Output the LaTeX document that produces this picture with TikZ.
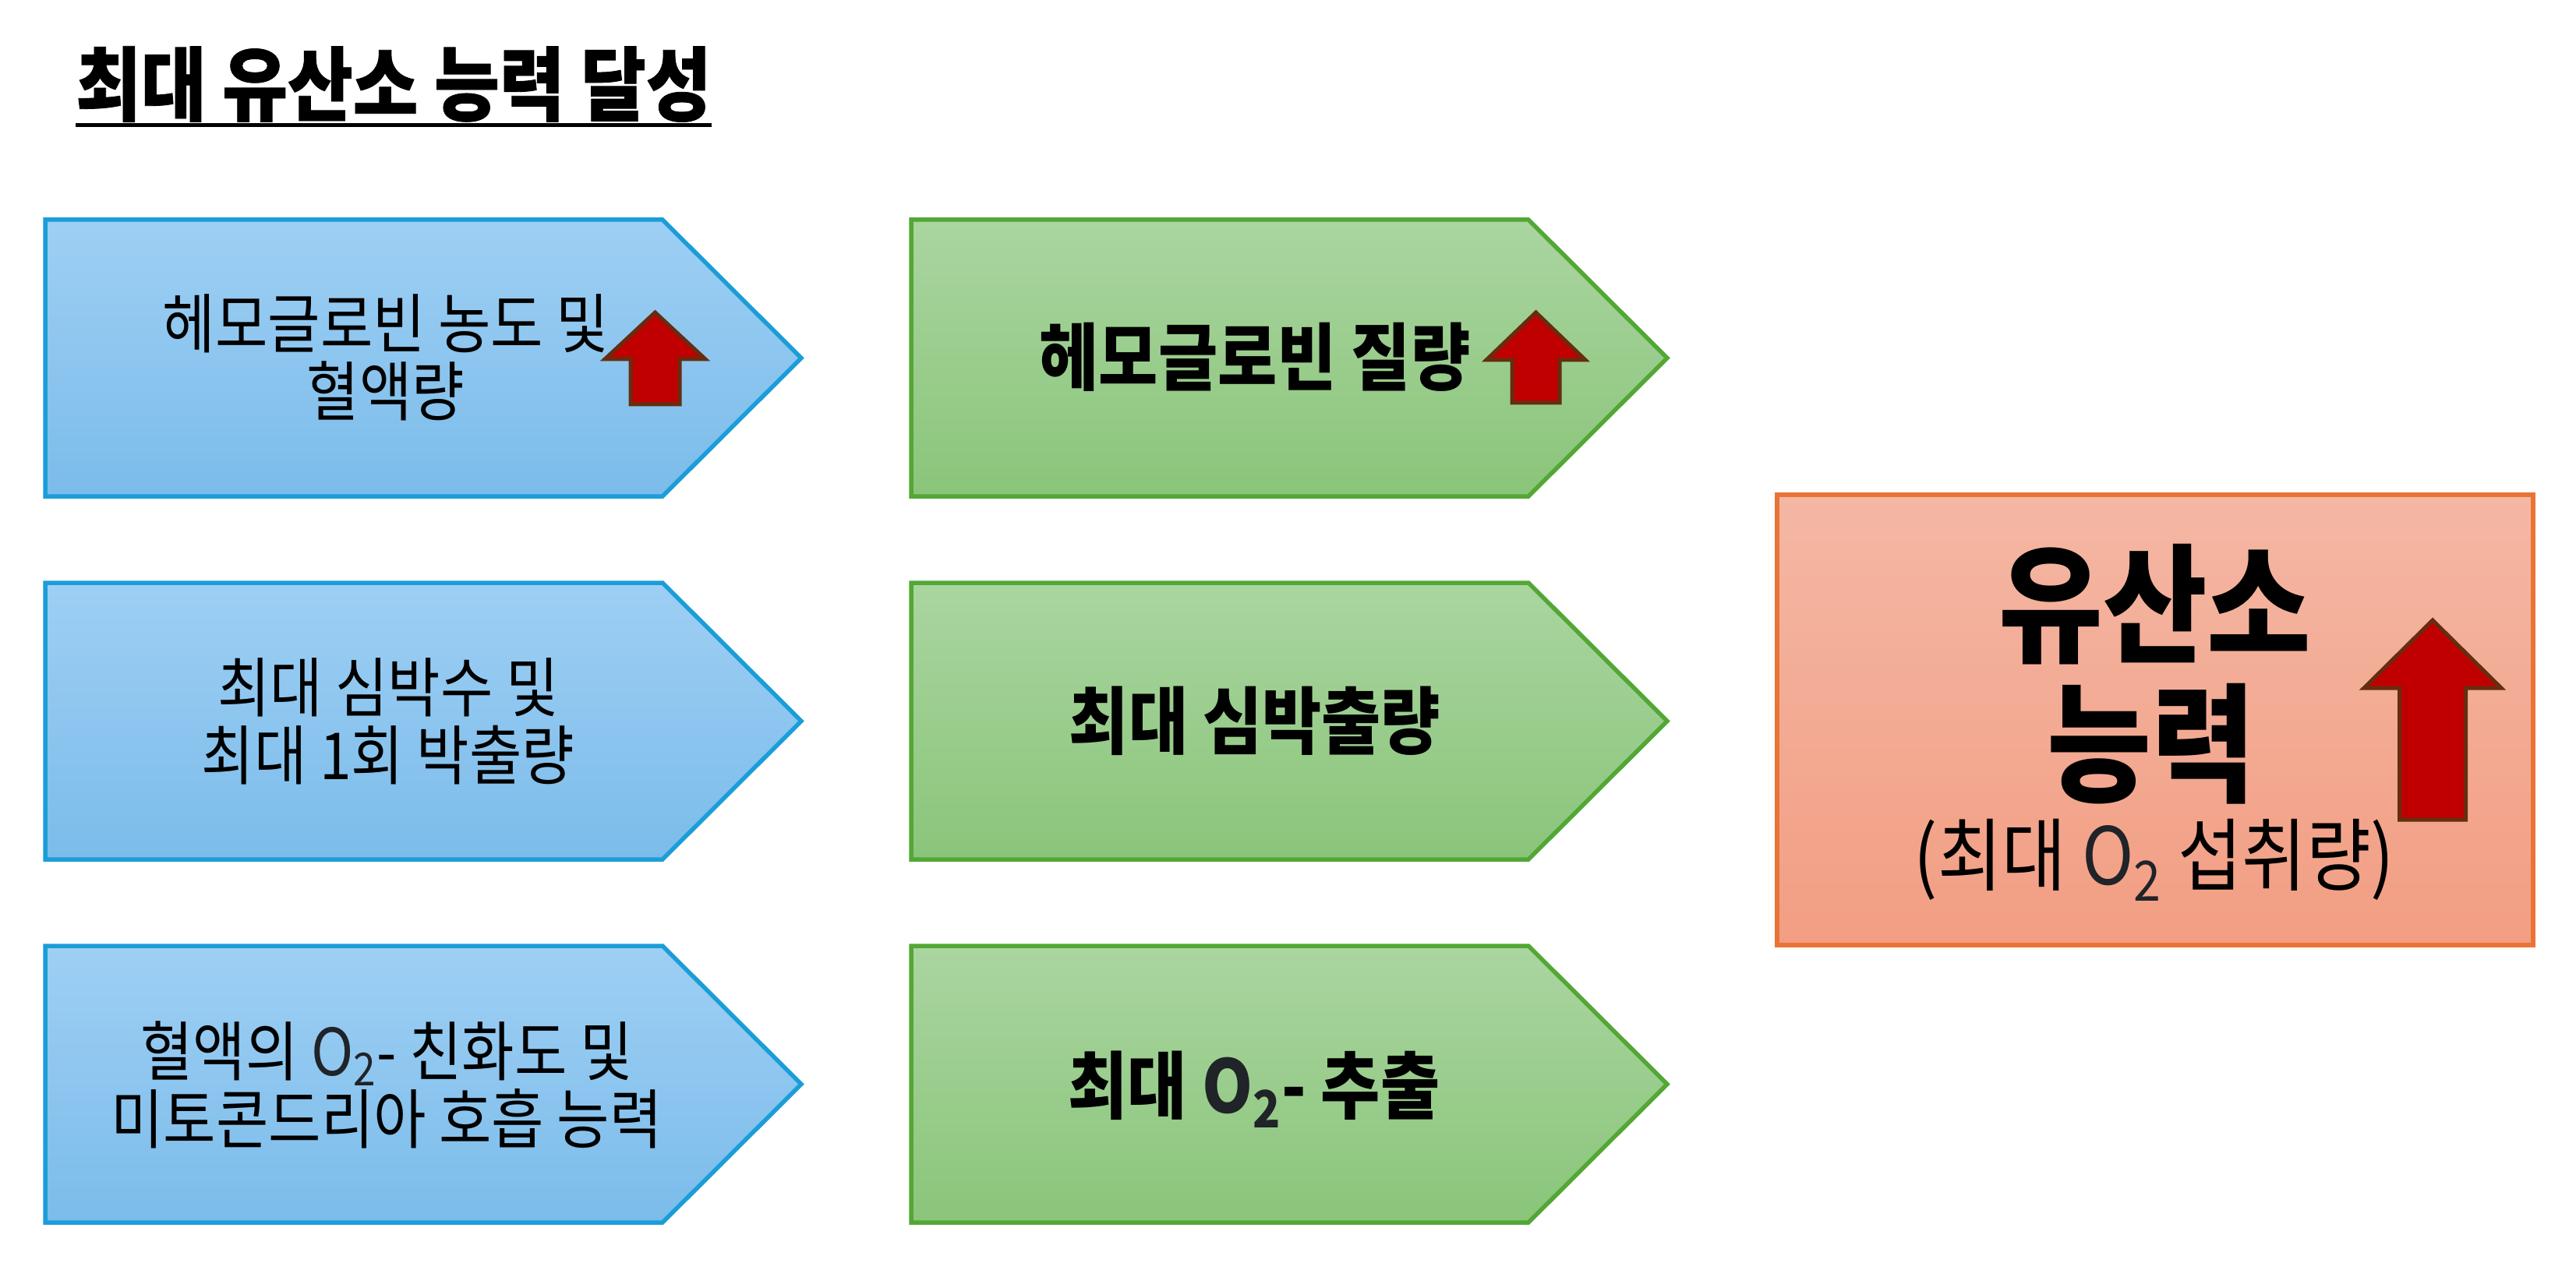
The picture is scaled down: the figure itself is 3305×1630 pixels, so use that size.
\documentclass[tikz,border=0pt]{standalone}
\usepackage{fontspec}
\setmainfont{Noto Sans CJK KR}[FakeStretch=0.88]
\newfontfamily\titlefont{Noto Sans CJK KR}[FakeStretch=0.88, FakeBold=0.8]
\usepackage{tikz}
\usepackage{xcolor}
\usetikzlibrary{positioning}

\definecolor{bluetop}{HTML}{9ECFF4}
\definecolor{bluebot}{HTML}{7BBCEA}
\definecolor{blueline}{HTML}{1B9DD8}
\definecolor{greentop}{HTML}{AAD5A0}
\definecolor{greenbot}{HTML}{8AC57A}
\definecolor{greenline}{HTML}{52A735}
\definecolor{boxtop}{HTML}{F4B7A4}
\definecolor{boxbot}{HTML}{F29E83}
\definecolor{boxline}{HTML}{E97436}
\definecolor{arrowfill}{HTML}{C00000}
\definecolor{arrowline}{HTML}{662D10}
\definecolor{otext}{HTML}{202328}

\begin{document}
\begin{tikzpicture}[x=0.1mm, y=-0.1mm,
    bluestep/.style={draw=blueline, line width=0.55mm, top color=bluetop, bottom color=bluebot},
    greenstep/.style={draw=greenline, line width=0.55mm, top color=greentop, bottom color=greenbot},
    vo2box/.style={draw=boxline, line width=0.55mm, top color=boxtop, bottom color=boxbot,
        minimum width=97mm, minimum height=57.8mm, inner sep=0pt},
    uparrow/.style={draw=arrowline, line width=0.5mm, fill=arrowfill},
    plain/.style={inner sep=0pt, align=center, font=\fontsize{23.7pt}{24.8pt}\selectfont},
    heavy/.style={inner sep=0pt, align=center, font=\fontsize{26.8pt}{30pt}\selectfont\bfseries}]
  \useasboundingbox (0,0) rectangle (3305,1630);

  % title
  \node[inner sep=0pt, font=\fontsize{29.4pt}{34pt}\titlefont\bfseries] (title) at (505,108) {최대 유산소 능력 달성};
  \draw[line width=0.5mm] ([yshift=-0.3mm]title.south west) -- ([yshift=-0.3mm]title.south east);

  % step shapes
  \foreach \x/\kind in {58/bluestep, 1169/greenstep}
    \foreach \y in {282, 748, 1214}
      \draw[\kind] (\x,\y) -- ++(792,0) -- ++(178,177.5) -- ++(-178,177.5) -- ++(-792,0) -- cycle;

  \node[vo2box] (vo2) at (2765,924) {};

  % texts
  \node[plain] (hbconc) at (495,459) {헤모글로빈 농도 및\\혈액량};
  \node[plain] (hrmax) at (498,926) {최대 심박수 및\\최대 1회 박출량};
  \node[plain] (oxaff) at (496,1392) {혈액의 {\color{otext}O\textsubscript{2}}- 친화도 및\\미토콘드리아 호흡 능력};

  \node[heavy] (hbmass) at (1610,458) {헤모글로빈 질량};
  \node[heavy] (qmax) at (1610,925) {최대 심박출량};
  \node[heavy] (o2ext) at (1609,1398) {최대 {\color{otext}O\textsubscript{2}}- 추출};

  \node[inner sep=0pt, font=\fontsize{47pt}{52pt}\selectfont\bfseries] (aer) at (2765,776) {유산소};
  \node[inner sep=0pt, font=\fontsize{47pt}{52pt}\selectfont\bfseries] (cap) at (2760,955) {능력};
  \node[inner sep=0pt, font=\fontsize{29pt}{33pt}\selectfont] (uptake) at (2764,1104) {(최대 {\color{otext}O\textsubscript{2}} 섭취량)};

  % up arrows
  \foreach \cx/\ty/\by/\hb/\hw/\sw in {840.5/401/519/461/129/63, 1970.5/401/517/462/127/61, 3121/796/1052/883/176/85}
    \draw[uparrow] (\cx,\ty) -- (\cx+\hw/2,\hb) -- (\cx+\sw/2,\hb) -- (\cx+\sw/2,\by)
      -- (\cx-\sw/2,\by) -- (\cx-\sw/2,\hb) -- (\cx-\hw/2,\hb) -- cycle;
\end{tikzpicture}
\end{document}
